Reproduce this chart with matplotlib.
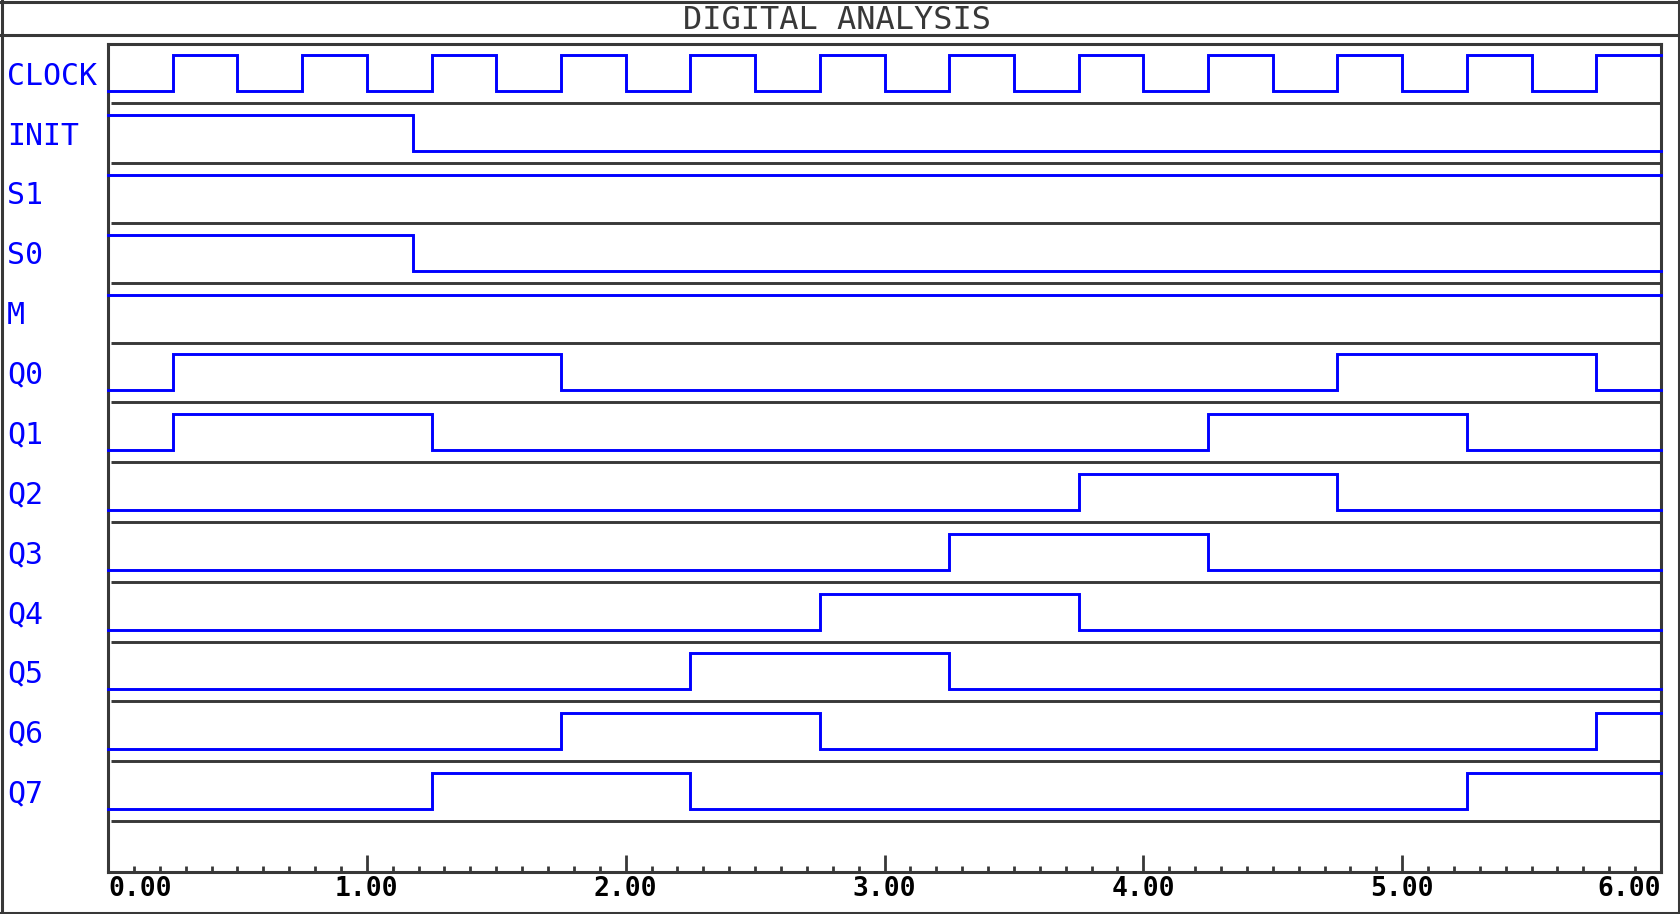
"""
plot.py — digital timing analysis (clock, control lines and ring counter Q0..Q7)
"""

import matplotlib
matplotlib.use("Agg")
import matplotlib.pyplot as plt
import matplotlib.transforms as mtransforms
from matplotlib.lines import Line2D


FIG_W, FIG_H = 1680, 914
DPI = 100
BLUE = "#0000ff"
FRAME = "#383838"
ROW_PX = 59.8

TITLE = "DIGITAL ANALYSIS"
SIGNAL_NAMES = ["CLOCK", "INIT", "S1", "S0", "M",
                "Q0", "Q1", "Q2", "Q3", "Q4", "Q5", "Q6", "Q7"]

# transition times (us) and the level that holds from each time on
CLOCK_T = [0.00, 0.25, 0.50, 0.75, 1.00, 1.25, 1.50, 1.75, 2.00, 2.25, 2.50, 2.75,
           3.00, 3.25, 3.50, 3.75, 4.00, 4.25, 4.50, 4.75, 5.00, 5.25, 5.50, 5.75, 6.00]
CLOCK_V = [0, 1, 0, 1, 0, 1, 0, 1, 0, 1, 0, 1,
           0, 1, 0, 1, 0, 1, 0, 1, 0, 1, 0, 1, 1]
INIT_T = [0.00, 1.18, 6.00]
INIT_V = [1, 0, 0]
S1_T = [0.00, 6.00]
S1_V = [1, 1]
S0_T = [0.00, 1.18, 6.00]
S0_V = [1, 0, 0]
M_T = [0.00, 6.00]
M_V = [1, 1]
Q0_T = [0.00, 0.25, 1.75, 4.75, 5.75, 6.00]
Q0_V = [0, 1, 0, 1, 0, 0]
Q1_T = [0.00, 0.25, 1.25, 4.25, 5.25, 6.00]
Q1_V = [0, 1, 0, 1, 0, 0]
Q2_T = [0.00, 3.75, 4.75, 6.00]
Q2_V = [0, 1, 0, 0]
Q3_T = [0.00, 3.25, 4.25, 6.00]
Q3_V = [0, 1, 0, 0]
Q4_T = [0.00, 2.75, 3.75, 6.00]
Q4_V = [0, 1, 0, 0]
Q5_T = [0.00, 2.25, 3.25, 6.00]
Q5_V = [0, 1, 0, 0]
Q6_T = [0.00, 1.75, 2.75, 5.75, 6.00]
Q6_V = [0, 1, 0, 1, 1]
Q7_T = [0.00, 1.25, 2.25, 5.25, 6.00]
Q7_V = [0, 1, 0, 1, 1]

X_MAJOR = [0, 1, 2, 3, 4, 5, 6]
X_LABELS = ["0.00", "1.00", "2.00", "3.00", "4.00", "5.00", "6.00"]


def px(x, y):
    """pixel position (from top-left) -> figure fraction"""
    return x / FIG_W, 1 - y / FIG_H


def main():
    signals = [(CLOCK_T, CLOCK_V), (INIT_T, INIT_V), (S1_T, S1_V), (S0_T, S0_V),
               (M_T, M_V), (Q0_T, Q0_V), (Q1_T, Q1_V), (Q2_T, Q2_V), (Q3_T, Q3_V),
               (Q4_T, Q4_V), (Q5_T, Q5_V), (Q6_T, Q6_V), (Q7_T, Q7_V)]

    fig = plt.figure(figsize=(FIG_W / DPI, FIG_H / DPI), dpi=DPI)

    # plot box: 108..1661 px wide, 43.5..872 px tall
    left, top, right, bottom = 108, 43.5, 1661, 872
    ax = fig.add_axes([left / FIG_W, 1 - bottom / FIG_H,
                       (right - left) / FIG_W, (bottom - top) / FIG_H])
    ax.set_xlim(0, 6)
    ax.set_ylim((bottom - top) / ROW_PX, 0)

    for i, (times, levels) in enumerate(signals):
        ys = [i + 0.8 - 0.6 * v for v in levels]
        ax.step(times, ys, where="post", color=BLUE, lw=2.1,
                solid_joinstyle="miter", clip_on=False, zorder=3)
        ax.hlines(i + 1, 0.01, 5.995, color=FRAME, lw=2.1, zorder=2)

    lab_tr = mtransforms.blended_transform_factory(fig.transFigure, ax.transData)
    for i, name in enumerate(SIGNAL_NAMES):
        ax.text(7 / FIG_W, i + 0.5, name, transform=lab_tr, color=BLUE,
                fontsize=21.5, family="DejaVu Sans Mono", va="center_baseline",
                ha="left", clip_on=False)

    for sp in ax.spines.values():
        sp.set_color(FRAME)
        sp.set_linewidth(2.2)

    ax.set_yticks([])
    ax.set_xticks(X_MAJOR)
    ax.set_xticks([t / 10 for t in range(61) if t % 10], minor=True)
    ax.set_xticklabels(X_LABELS, family="DejaVu Sans Mono", fontweight="bold",
                       fontsize=19, color="black")
    ax.tick_params(axis="x", which="major", direction="in", length=12,
                   width=2.0, color=FRAME, pad=3)
    ax.tick_params(axis="x", which="minor", direction="in", length=4.5,
                   width=2.0, color=FRAME)
    labels = ax.get_xticklabels()
    labels[0].set_ha("left")
    labels[-1].set_ha("right")

    # outer frame and title band
    for xs, ys in [((0, FIG_W), (1.5, 1.5)), ((0, FIG_W), (912.5, 912.5)),
                   ((1.5, 1.5), (0, FIG_H)), ((1678.5, 1678.5), (0, FIG_H)),
                   ((0, FIG_W), (34.5, 34.5))]:
        p0 = px(xs[0], ys[0])
        p1 = px(xs[1], ys[1])
        fig.add_artist(Line2D([p0[0], p1[0]], [p0[1], p1[1]],
                              transform=fig.transFigure, color=FRAME, lw=2.2))

    tx, ty = px(837, 29)
    fig.text(tx, ty, TITLE, ha="center", va="baseline", color=FRAME,
             fontsize=23, family="DejaVu Sans Mono", fontweight="light")

    fig.savefig("out.png", dpi=DPI)
    plt.close(fig)


if __name__ == "__main__":
    main()
